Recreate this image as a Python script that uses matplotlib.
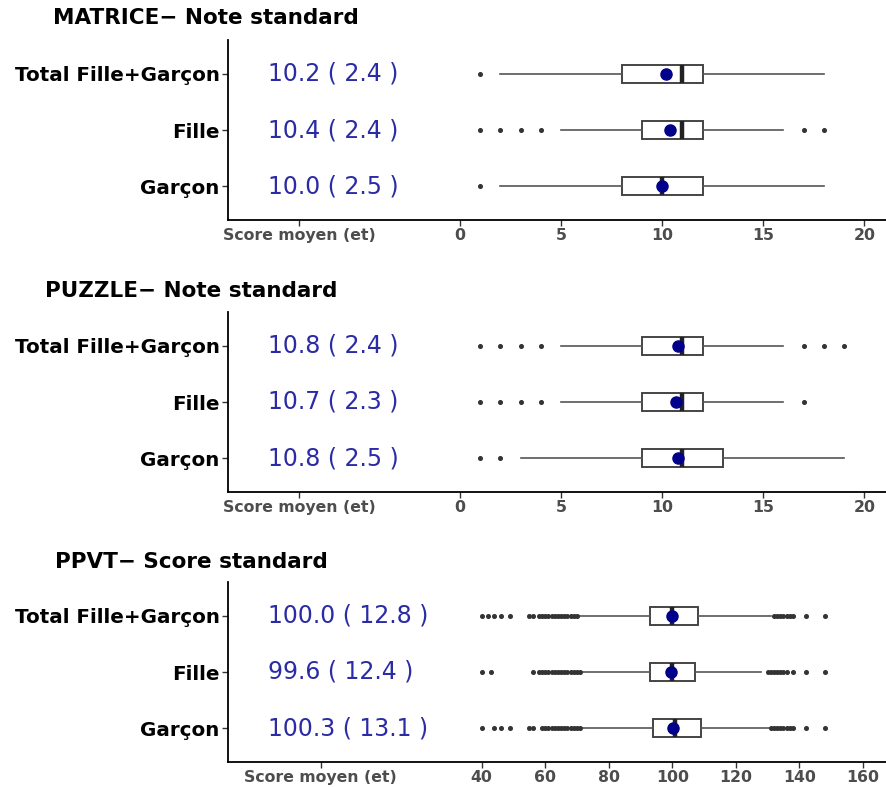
import numpy as np
import matplotlib
matplotlib.use("Agg")
import matplotlib.pyplot as plt

plt.rcParams['font.family'] = ['DejaVu Sans']

groupes = ["Garçon", "Fille", "Total Fille+Garçon"]

titres = ["MATRICE\u2212 Note standard", "PUZZLE\u2212 Note standard", "PPVT\u2212 Score standard"]

# moyenne (et) par groupe : Garçon, Fille, Total
moy_matrice = [10.0, 10.4, 10.2]
et_matrice = [2.5, 2.4, 2.4]
moy_puzzle = [10.8, 10.7, 10.8]
et_puzzle = [2.5, 2.3, 2.4]
moy_ppvt = [100.3, 99.6, 100.0]
et_ppvt = [13.1, 12.4, 12.8]

# boites : whislo, q1, med, q3, whishi
box_matrice = [[2, 8, 10, 12, 18], [5, 9, 11, 12, 16], [2, 8, 11, 12, 18]]
box_puzzle = [[3, 9, 11, 13, 19], [5, 9, 11, 12, 16], [5, 9, 11, 12, 16]]
box_ppvt = [[71.5, 94, 101, 109, 130.5], [71.5, 93, 100, 107, 128], [70.5, 93, 100, 108, 131]]

out_matrice = [[1], [1, 2, 3, 4, 17, 18], [1]]
out_puzzle = [[1, 2], [1, 2, 3, 4, 17], [1, 2, 3, 4, 17, 18, 19]]
out_ppvt = [
    [40, 44, 46, 49, 55, 56, 59, 60, 61, 62, 63, 64, 65, 66, 67, 68, 69, 70, 71,
     131, 132, 133, 134, 135, 136, 137, 138, 142, 148],
    [40, 43, 56, 58, 59, 60, 61, 62, 63, 64, 65, 66, 67, 68, 69, 70, 71,
     130, 131, 132, 133, 134, 135, 136, 138, 142, 148],
    [40, 42, 44, 46, 49, 55, 56, 58, 59, 60, 61, 62, 63, 64, 65, 66, 67, 68, 69, 70,
     132, 133, 134, 135, 136, 137, 138, 142, 148],
]

xticks_1 = [0, 5, 10, 15, 20]
xticks_3 = [40, 60, 80, 100, 120, 140, 160]

panneaux = [
    dict(moy=moy_matrice, et=et_matrice, box=box_matrice, out=out_matrice,
         xlim=(-11.47, 21.07), xticks=xticks_1, score_x=-7.95, texte_x=-9.48,
         rect=(228, 40, 220), titre_xy=(53, 18)),
    dict(moy=moy_puzzle, et=et_puzzle, box=box_puzzle, out=out_puzzle,
         xlim=(-11.47, 21.07), xticks=xticks_1, score_x=-7.95, texte_x=-9.48,
         rect=(228, 312, 492), titre_xy=(45, 291)),
    dict(moy=moy_ppvt, et=et_ppvt, box=box_ppvt, out=out_ppvt,
         xlim=(-39.9, 167.3), xticks=xticks_3, score_x=-10.7, texte_x=-27.3,
         rect=(228, 582, 762), titre_xy=(55, 562)),
]

W, H = 886, 787
fig = plt.figure(figsize=(W / 100, H / 100), dpi=100)

gris_tick = '#4D4D4D'
bleu_txt = '#2B2BA6'

for p, titre in zip(panneaux, titres):
    x0, top, bot = p['rect']
    ax = fig.add_axes([x0 / W, 1 - bot / H, (W - x0) / W, (bot - top) / H])

    stats = []
    for b, o, m in zip(p['box'], p['out'], p['moy']):
        stats.append(dict(whislo=b[0], q1=b[1], med=b[2], q3=b[3], whishi=b[4],
                          fliers=o, mean=m))
    ax.bxp(stats, positions=[1, 2, 3], widths=0.32, vert=False, showcaps=False,
           showmeans=True, patch_artist=True,
           boxprops=dict(facecolor='white', edgecolor='#444444', linewidth=1.4),
           whiskerprops=dict(color='#555555', linewidth=1.2),
           medianprops=dict(color='#222222', linewidth=3.2),
           flierprops=dict(marker='o', markersize=2.6, markerfacecolor='#333333',
                           markeredgecolor='#333333'),
           meanprops=dict(marker='o', markersize=8, markerfacecolor='#00008B',
                          markeredgecolor='#00008B'))

    for i, (m, e) in enumerate(zip(p['moy'], p['et'])):
        ax.text(p['texte_x'], i + 1, f"{m:.1f} ( {e:.1f} )", ha='left', va='center',
                fontsize=17, color=bleu_txt)

    ax.set_xlim(*p['xlim'])
    ax.set_ylim(0.4, 3.6)
    ax.set_yticks([1, 2, 3])
    ax.set_yticklabels(groupes, fontsize=14.3, fontweight='bold', color='black')
    ax.set_xticks([p['score_x']] + p['xticks'])
    ax.set_xticklabels(["Score moyen (et)"] + [str(t) for t in p['xticks']],
                       fontsize=11.3, fontweight='bold', color=gris_tick)
    ax.tick_params(axis='both', length=4, width=1, color='#333333', pad=2)
    for s in ['top', 'right']:
        ax.spines[s].set_visible(False)
    for s in ['left', 'bottom']:
        ax.spines[s].set_linewidth(1.3)
        ax.spines[s].set_color('black')

    tx, ty = p['titre_xy']
    fig.text(tx / W, 1 - ty / H, titre, ha='left', va='center', fontsize=15.5,
             fontweight='bold')

fig.savefig("out.png", dpi=100)
